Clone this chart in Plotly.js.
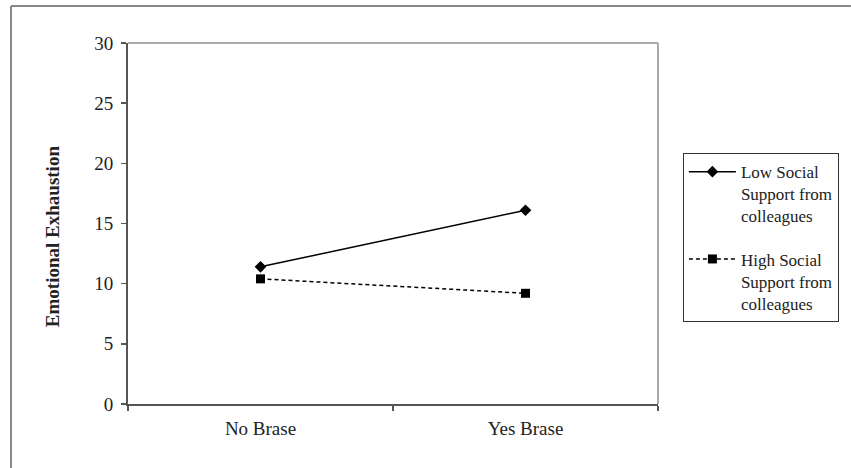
<!DOCTYPE html>
<html>
<head>
<meta charset="utf-8">
<script src="https://cdn.plot.ly/plotly-3.0.1.min.js"></script>
<style>html,body{margin:0;padding:0;background:#fff}#chart{width:851px;height:468px}</style>
</head>
<body>
<div id="chart"></div>
<script>
const categories = ['No Brase', 'Yes Brase'];
const lowSupport = [11.4, 16.1];
const highSupport = [10.4, 9.2];
const seriesNames = ['Low Social<br>Support from<br>colleagues', 'High Social<br>Support from<br>colleagues'];
const yTicks = [0, 5, 10, 15, 20, 25, 30];
const yTitle = 'Emotional Exhaustion';

const font = 'Liberation Serif, Times New Roman, serif';

const traces = [
  {
    x: categories, y: lowSupport, name: seriesNames[0], type: 'scatter', mode: 'lines+markers',
    legendgroup: 'a',
    line: {color: '#000', width: 1.5},
    marker: {symbol: 'diamond', size: 9, color: '#000'}
  },
  {
    x: categories, y: highSupport, name: seriesNames[1], type: 'scatter', mode: 'lines+markers',
    legendgroup: 'b',
    line: {color: '#000', width: 1.5, dash: '4px,3px'},
    marker: {symbol: 'square', size: 9, color: '#000'}
  }
];

const layout = {
  width: 851, height: 468,
  margin: {l: 128, r: 193, t: 43, b: 64},
  paper_bgcolor: '#fff', plot_bgcolor: '#fff',
  font: {family: font, size: 19, color: '#222'},
  showlegend: true,
  legend: {
    x: 1.047, y: 0.695, xanchor: 'left', yanchor: 'top',
    bordercolor: '#333', borderwidth: 1,
    font: {family: font, size: 17, color: '#222'},
    itemwidth: 47, valign: 'top',
    traceorder: 'grouped', tracegroupgap: 18
  },
  xaxis: {
    type: 'category', range: [-0.5, 1.5],
    showline: true, linecolor: '#555', linewidth: 2,
    ticks: 'outside', tickson: 'boundaries', ticklen: 5, tickcolor: '#555', tickwidth: 1.5,
    showgrid: false, zeroline: false,
    ticklabelstandoff: 6,
    tickfont: {family: font, size: 19, color: '#222'}
  },
  yaxis: {
    range: [0, 30], tickvals: yTicks,
    showline: true, linecolor: '#555', linewidth: 2,
    ticks: 'outside', ticklen: 5, tickcolor: '#555', tickwidth: 1.5,
    showgrid: false, zeroline: false,
    ticklabelstandoff: 4,
    tickfont: {family: font, size: 19, color: '#222'}
  },
  annotations: [
    {text: '<b>' + yTitle + '</b>', xref: 'paper', yref: 'paper', x: -0.1434, y: 0.465,
     xanchor: 'center', yanchor: 'middle', textangle: -90, showarrow: false,
     font: {family: font, size: 19, color: '#222'}}
  ],
  shapes: [
    {type: 'line', xref: 'paper', yref: 'paper', x0: 0, x1: 1, y0: 1, y1: 1, line: {color: '#aaa', width: 2}},
    {type: 'line', xref: 'paper', yref: 'paper', x0: 1, x1: 1, y0: 0, y1: 1, line: {color: '#aaa', width: 2}},
    {type: 'line', xref: 'paper', yref: 'paper', x0: -0.2208, x1: 1.364, y0: 1.1025, y1: 1.1025, line: {color: '#888', width: 2}},
    {type: 'line', xref: 'paper', yref: 'paper', x0: -0.2208, x1: -0.2208, y0: -0.18, y1: 1.1025, line: {color: '#888', width: 2}}
  ]
};

Plotly.newPlot('chart', traces, layout, {displayModeBar: false, staticPlot: true});
</script>
</body>
</html>
